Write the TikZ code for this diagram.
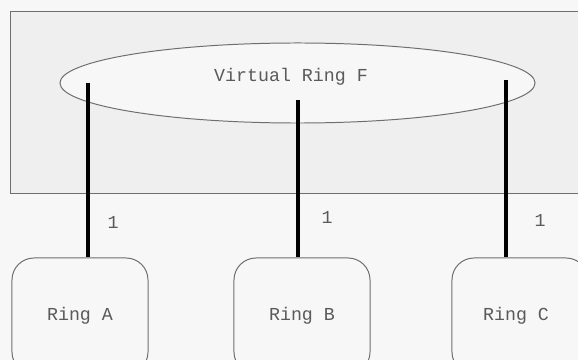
\documentclass[tikz,border=0pt]{standalone}
\usepackage{fontspec}
\setmonofont{Liberation Mono}
\usetikzlibrary{shapes.geometric, positioning}

\definecolor{paper}{HTML}{F7F7F7}
\definecolor{panel}{HTML}{EFEFEF}
\definecolor{edge}{HTML}{6E6E6E}
\definecolor{ink}{HTML}{5A5A5A}

\begin{document}
\begin{tikzpicture}[
    x=0.025cm, y=-0.025cm,
    font=\ttfamily\fontsize{13}{15}\selectfont,
    frame/.style = {draw=edge, fill=panel, line width=0.8pt},
    vring/.style = {draw=edge, fill=paper, ellipse, line width=0.7pt,
                    minimum width=11.875cm, minimum height=2cm, inner sep=0pt},
    ringbox/.style = {draw=edge, fill=paper, rounded corners=0.55cm, line width=0.7pt,
                      minimum width=3.4cm, minimum height=2.9cm, inner sep=0pt},
    link/.style = {line width=2.8pt, black},
    lbl/.style = {text=ink, inner sep=0pt}
  ]

  % page and clipping
  \useasboundingbox (0,0) rectangle (578,360);
  \clip (0,0) rectangle (578,360);
  \fill[paper] (0,0) rectangle (578,360);

  % outer panel
  \node[frame, minimum width=14.5cm, minimum height=4.55cm, inner sep=0pt,
        anchor=north west] (panel) at (10,11) {};

  % virtual ring
  \node[vring] (ringF) at (297.5,83) {};
  \node[lbl] (title) at (291,77) {Virtual Ring F};

  % physical rings
  \node[ringbox] (ringA) at (80,316) {};
  \node[ringbox] (ringB) at (302,316) {};
  \node[ringbox] (ringC) at (520,316) {};
  \node[lbl] (nameA) at (ringA.center) {Ring A};
  \node[lbl] (nameB) at (ringB.center) {Ring B};
  \node[lbl] (nameC) at ([xshift=-0.1cm]ringC.center) {Ring C};

  % link ends inside the ellipse
  \coordinate (fA) at (88,83);
  \coordinate (fB) at (298,100);
  \coordinate (fC) at (506,80);

  % links
  \draw[link] (fA) -- (fA |- ringA.north);
  \draw[link] (fB) -- (fB |- ringB.north);
  \draw[link] (fC) -- (fC |- ringC.north);

  % link weights
  \node[lbl] (oneA) at (113,222) {1};
  \node[lbl] (oneB) at (327,217) {1};
  \node[lbl] (oneC) at (540,220) {1};

\end{tikzpicture}
\end{document}
